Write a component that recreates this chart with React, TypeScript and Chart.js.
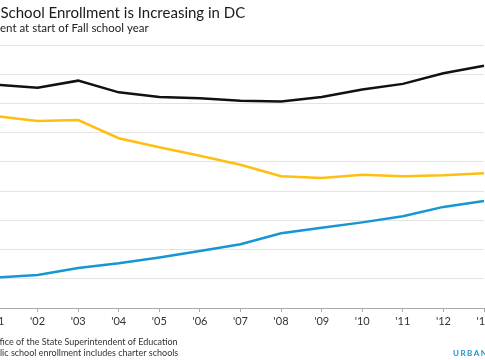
import React, { useEffect, useRef } from 'react';
import { Chart, registerables } from 'chart.js';
Chart.register(...registerables);

const years = ["'01", "'02", "'03", "'04", "'05", "'06", "'07", "'08", "'09", "'10", "'11", "'12", "'13"];
const totalEnrollment = [76400, 75400, 77800, 73800, 72200, 71800, 70900, 70700, 72200, 74800, 76700, 80300, 82900];
const dcpsEnrollment = [65600, 64000, 64300, 58100, 55000, 52100, 49000, 45100, 44500, 45600, 45100, 45400, 46100];
const charterEnrollment = [10400, 11300, 13700, 15300, 17300, 19500, 21800, 25600, 27500, 29300, 31400, 34600, 36600];
const seriesNames = ['Total public school enrollment', 'DC Public Schools', 'Public charter schools'];
const yMin = 0;
const yMax = 90000;
const yStep = 10000;

const titleText = 'Public School Enrollment is Increasing in DC';
const subtitleText = 'Enrollment at start of Fall school year';
const sourceText = 'Source: Office of the State Superintendent of Education';
const noteText = 'Note: Public school enrollment includes charter schools';
const brandText = 'URBAN';

const SHIFT = 50;
const CW = 560;
const CH = 360;

// draw a text line so that the part after `hidden` starts at the visible left edge (+dx)
function drawCropped(ctx: any, text: string, hidden: string, dx: number, y: number) {
  const w = ctx.measureText(hidden).width;
  ctx.fillText(text, SHIFT + dx - w, y);
}

const textPlugin = {
  id: 'textPlugin',
  afterDraw(chart: any) {
    const ctx = chart.ctx;
    ctx.save();
    ctx.textBaseline = 'middle';
    ctx.textAlign = 'left';
    ctx.fillStyle = '#1a1a1a';
    ctx.font = '15px Lato';
    drawCropped(ctx, titleText, 'Public ', 0.5, 13);
    ctx.fillStyle = '#222';
    ctx.font = '11.5px Lato';
    drawCropped(ctx, subtitleText, 'Enrollm', 0, 28);
    ctx.fillStyle = '#333';
    ctx.font = '9px Lato';
    drawCropped(ctx, sourceText, 'Source: Of', 0, 342);
    drawCropped(ctx, noteText, 'Note: Pub', 0, 353);
    ctx.fillStyle = '#1696d2';
    ctx.font = '700 8px Lato';
    try { (ctx as any).letterSpacing = '1.5px'; } catch (e) {}
    ctx.fillText(brandText, SHIFT + 453, 353);
    ctx.restore();
  },
};

export default function App() {
  const ref = useRef<HTMLCanvasElement | null>(null);
  useEffect(() => {
    if (!ref.current) return;
    const chart = new Chart(ref.current, {
      type: 'line',
      data: {
        labels: years,
        datasets: [
          { label: seriesNames[0], data: totalEnrollment, borderColor: '#111111', borderWidth: 2.5, pointRadius: 0, tension: 0 },
          { label: seriesNames[1], data: dcpsEnrollment, borderColor: '#fdbf11', borderWidth: 2.5, pointRadius: 0, tension: 0 },
          { label: seriesNames[2], data: charterEnrollment, borderColor: '#1696d2', borderWidth: 2.5, pointRadius: 0, tension: 0 },
        ],
      },
      options: {
        responsive: false,
        animation: false,
        layout: { padding: { left: 0, right: CW - 534, top: 45, bottom: 30 } },
        plugins: { legend: { display: false }, title: { display: false }, tooltip: { enabled: false } },
        scales: {
          x: {
            offset: false,
            grid: { drawOnChartArea: false, drawTicks: true, tickLength: 4, color: '#aaaaaa' },
            border: { display: true, color: '#aaaaaa', width: 1 },
            ticks: { color: '#333', font: { family: 'Lato', size: 11 }, padding: 3, maxRotation: 0, autoSkip: false },
            afterFit: (s: any) => { s.height = 22; },
          },
          y: {
            min: yMin,
            max: yMax,
            grid: { color: '#e4e4e4', lineWidth: 1, drawTicks: false },
            border: { display: false },
            ticks: {
              stepSize: yStep,
              color: '#333',
              font: { family: 'Lato', size: 11 },
              padding: 6,
              callback: (v: any) => Number(v).toLocaleString('en-US'),
            },
            afterFit: (s: any) => { s.width = 47; },
          },
        },
      },
      plugins: [textPlugin],
    });
    return () => chart.destroy();
  }, []);
  return (
    <div style={{ position: 'fixed', left: 0, top: 0, width: 485, height: 360, overflow: 'hidden', background: '#fff' }}>
      <div style={{ position: 'absolute', left: -SHIFT, top: 0, width: CW, height: CH }}>
        <canvas ref={ref} width={CW} height={CH} style={{ width: CW, height: CH, display: 'block' }} />
      </div>
    </div>
  );
}
